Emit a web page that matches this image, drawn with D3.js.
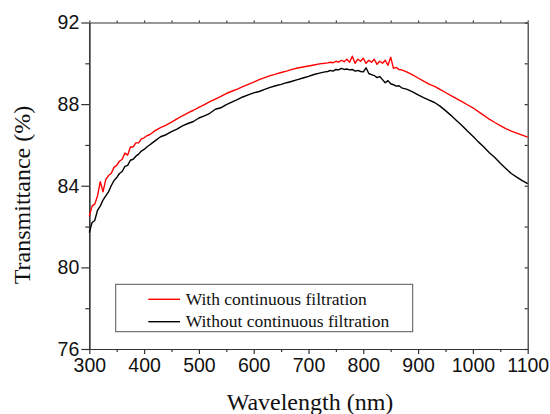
<!DOCTYPE html>
<html lang="en">
<head>
    <meta charset="UTF-8">
    <title>Transmittance spectra</title>
    <script src="https://d3js.org/d3.v7.min.js"></script>
    <style>
        body { margin: 0; background: #fff; }
        .tick text { font-family: "Liberation Sans", Arial, sans-serif; font-size: 19.5px; fill: #111; }
        .axis path, .axis line { stroke: #333; stroke-width: 1.2px; }
        .title { font-family: "Liberation Serif", "Times New Roman", serif; font-size: 24px; fill: #111; }
        .legend text { font-family: "Liberation Serif", "Times New Roman", serif; font-size: 17.5px; fill: #111; }
    </style>
</head>
<body>
<svg width="550" height="414"></svg>
<script>
// wavelength (nm), shared by both curves
const wavelength = [
    300, 305, 310, 315, 320, 325, 330, 335, 340, 345, 350, 355, 360, 365, 370, 375, 380, 385, 390, 395, 400, 405, 410, 415, 420,
    430, 440, 450, 460, 470, 480, 490, 500, 510, 520, 530, 540, 550, 560, 570, 580, 590, 600, 610, 620, 630, 640, 650, 660, 670, 680, 690, 700, 710, 720, 730,
    735, 740, 745, 750, 755, 760, 765, 770, 775, 780, 785, 790, 795, 800, 805, 810, 815, 820, 825, 830, 835, 840, 845, 850, 855, 860, 865, 870,
    880, 890, 900, 910, 920, 930, 940, 950, 960, 970, 980, 990, 1000, 1010, 1020, 1030, 1040, 1050, 1060, 1070, 1080, 1090, 1100
];

// with continuous filtration (%)
const withFiltration = [
    82.5, 83.0, 83.1, 83.5, 84.2, 83.7, 84.3, 84.5, 84.6, 84.9, 85.0, 85.2, 85.3, 85.6, 85.5, 85.9, 85.9, 86.1, 86.1, 86.3, 86.35, 86.45, 86.5, 86.6, 86.7,
    86.85, 86.97, 87.12, 87.28, 87.43, 87.57, 87.7, 87.84, 87.98, 88.12, 88.25, 88.38, 88.52, 88.63, 88.74, 88.86, 88.97, 89.08, 89.2, 89.3, 89.4, 89.47, 89.55, 89.62, 89.7, 89.77, 89.82, 89.87, 89.92, 89.97, 90.0,
    90.02, 90.05, 90.03, 90.1, 90.06, 90.15, 90.08, 90.2, 90.05, 90.35, 90.0, 90.2, 90.1, 90.25, 90.0, 90.15, 90.05, 90.2, 89.95, 90.1, 90.0, 90.15, 89.9, 90.3, 89.75, 89.8, 89.7, 89.68,
    89.57, 89.43, 89.28, 89.13, 88.98, 88.87, 88.72, 88.57, 88.42, 88.27, 88.12, 87.97, 87.82, 87.63, 87.45, 87.26, 87.1, 86.95, 86.8, 86.68, 86.58, 86.48, 86.38
];

// without continuous filtration (%)
const withoutFiltration = [
    81.7, 82.2, 82.3, 82.8, 83.0, 83.3, 83.5, 83.7, 84.0, 84.25, 84.4, 84.6, 84.7, 84.95, 85.0, 85.25, 85.3, 85.45, 85.55, 85.7, 85.78, 85.9, 86.0, 86.1, 86.2,
    86.4, 86.5, 86.65, 86.78, 86.93, 87.05, 87.15, 87.32, 87.42, 87.55, 87.75, 87.82, 87.98, 88.1, 88.22, 88.35, 88.45, 88.55, 88.62, 88.72, 88.82, 88.9, 88.97, 89.05, 89.12, 89.2, 89.28, 89.36, 89.45, 89.52, 89.58,
    89.6, 89.65, 89.62, 89.7, 89.68, 89.75, 89.7, 89.72, 89.68, 89.7, 89.62, 89.65, 89.6, 89.58, 89.78, 89.5, 89.45, 89.4, 89.3, 89.35, 89.2, 89.05, 89.15, 89.0, 88.95, 88.88, 88.9, 88.8,
    88.72, 88.6, 88.45, 88.32, 88.2, 88.08, 87.9, 87.68, 87.45, 87.2, 86.95, 86.68, 86.43, 86.15, 85.9, 85.62, 85.38, 85.1, 84.85, 84.6, 84.42, 84.25, 84.1
];

const xTicks = [300, 400, 500, 600, 700, 800, 900, 1000, 1100];
const xMinor = [350, 450, 550, 650, 750, 850, 950, 1050];
const yTicks = [76, 80, 84, 88, 92];
const yMinor = [78, 82, 86, 90];

const series = [
    { name: "With continuous filtration", values: withFiltration, color: "#ff0000" },
    { name: "Without continuous filtration", values: withoutFiltration, color: "#000000" }
];

const svg = d3.select("svg");
const plotLeft = 89.3, plotRight = 527.7, plotTop = 22.5, plotBottom = 349;

const x = d3.scaleLinear().domain([300, 1100]).range([plotLeft, plotRight]);
const y = d3.scaleLinear().domain([76, 92]).range([plotBottom, plotTop]);
const fmt = d3.format("d");

// frame (top and right)
svg.append("g").attr("class", "axis")
    .attr("transform", `translate(0,${plotTop})`)
    .call(d3.axisTop(x).tickValues(xTicks.concat(xMinor)).tickSize(2).tickFormat("").tickSizeOuter(0));
svg.append("g").attr("class", "axis")
    .attr("transform", `translate(${plotRight},0)`)
    .call(d3.axisRight(y).tickValues(yTicks.concat(yMinor)).tickSize(-3).tickFormat("").tickSizeOuter(0));

// bottom axis
svg.append("g").attr("class", "axis")
    .attr("transform", `translate(0,${plotBottom})`)
    .call(d3.axisBottom(x).tickValues(xMinor).tickSize(3).tickFormat("").tickSizeOuter(0));
svg.append("g").attr("class", "axis")
    .attr("transform", `translate(0,${plotBottom})`)
    .call(d3.axisBottom(x).tickValues(xTicks).tickFormat(fmt).tickSize(5).tickPadding(4).tickSizeOuter(0));

// left axis
svg.append("g").attr("class", "axis")
    .attr("transform", `translate(${plotLeft},0)`)
    .call(d3.axisLeft(y).tickValues(yMinor).tickSize(4).tickFormat("").tickSizeOuter(0));
svg.append("g").attr("class", "axis")
    .attr("transform", `translate(${plotLeft},0)`)
    .call(d3.axisLeft(y).tickValues(yTicks).tickFormat(fmt).tickSize(8).tickPadding(2).tickSizeOuter(0));

// curves
const line = d3.line()
    .x((d, i) => x(wavelength[i]))
    .y(d => y(d));

svg.append("g").selectAll("path")
    .data(series)
    .enter().append("path")
    .attr("fill", "none")
    .attr("stroke", d => d.color)
    .attr("stroke-width", 1.4)
    .attr("stroke-linejoin", "round")
    .attr("d", d => line(d.values));

// axis titles
svg.append("text").attr("class", "title")
    .attr("x", 310).attr("y", 410)
    .attr("text-anchor", "middle")
    .text("Wavelength (nm)");
svg.append("text").attr("class", "title")
    .attr("transform", "translate(30,195) rotate(-90)")
    .attr("text-anchor", "middle")
    .text("Transmittance (%)");

// legend
const legend = svg.append("g").attr("class", "legend");
legend.append("rect")
    .attr("x", 115.7).attr("y", 284.3)
    .attr("width", 297).attr("height", 47.4)
    .attr("fill", "#fff").attr("stroke", "#555").attr("stroke-width", 1);

const item = legend.selectAll("g.item")
    .data(series)
    .enter().append("g")
    .attr("class", "item")
    .attr("transform", (d, i) => `translate(0,${299.3 + i * 22.4})`);
item.append("line")
    .attr("x1", 148.3).attr("x2", 180)
    .attr("stroke", d => d.color).attr("stroke-width", 1.4);
item.append("text")
    .attr("x", 185.7).attr("dy", "0.33em")
    .text(d => d.name);
</script>
</body>
</html>
